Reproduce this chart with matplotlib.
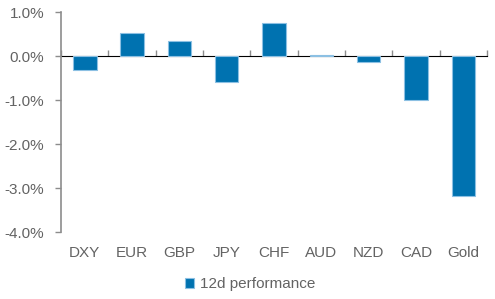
#!/usr/bin/env python3
import numpy as np
import matplotlib
matplotlib.use("Agg")
import matplotlib.pyplot as plt
from matplotlib.ticker import FuncFormatter

# 12 day performance, in percent
categories = ['DXY', 'EUR', 'GBP', 'JPY', 'CHF', 'AUD', 'NZD', 'CAD', 'Gold']
perf_12d = [-0.32, 0.52, 0.34, -0.59, 0.76, 0.02, -0.14, -1.00, -3.18]
y_ticks = [1.0, 0.0, -1.0, -2.0, -3.0, -4.0]
series_name = '12d performance'

bar_color = '#0072B0'
edge_color = '#8CC0E3'
axis_grey = '#8C8C8C'
text_grey = '#636363'

plt.rcParams['font.family'] = ['Liberation Sans', 'DejaVu Sans']
plt.rcParams['font.size'] = 11

fig = plt.figure(figsize=(4.95, 2.99), dpi=100)
ax = fig.add_axes([61 / 495, 1 - 232 / 299, 426 / 495, 220 / 299])

x = np.arange(len(categories))
ax.bar(x, perf_12d, width=0.5, color=bar_color, edgecolor=edge_color,
       linewidth=0.8, label=series_name, zorder=2)

ax.set_xlim(-0.5, len(categories) - 0.5)
ax.set_ylim(min(y_ticks), max(y_ticks))
ax.set_yticks(y_ticks)
ax.yaxis.set_major_formatter(FuncFormatter(lambda v, p: f'{v:.1f}%'))

# category labels under the plot, no ticks
ax.set_xticks(x)
ax.set_xticklabels(categories)
ax.tick_params(axis='x', length=0, pad=10, colors=text_grey, labelsize=11)
ax.tick_params(axis='y', length=4, width=1, color=axis_grey, pad=8,
               labelcolor=text_grey, labelsize=11)

for side in ['top', 'right', 'bottom']:
	ax.spines[side].set_visible(False)
ax.spines['left'].set_color(axis_grey)
ax.spines['left'].set_linewidth(1.2)

# zero line with boundary ticks between categories
zero_pos = (0 - min(y_ticks)) / (max(y_ticks) - min(y_ticks))
sec = ax.secondary_xaxis(zero_pos)
sec.set_xticks(np.arange(len(categories) + 1) - 0.5)
sec.set_xticklabels([])
sec.tick_params(axis='x', length=4, width=1, color=axis_grey, direction='out')
sec.spines['bottom'].set_color(axis_grey)
sec.spines['bottom'].set_linewidth(1.2)
sec.spines['bottom'].set_zorder(3)

leg = fig.legend(loc='center', bbox_to_anchor=(0.505, 0.05), frameon=False,
                 handlelength=0.6, handleheight=0.6, handletextpad=0.4,
                 fontsize=11, borderpad=0, borderaxespad=0)
for t in leg.get_texts():
	t.set_color(text_grey)

fig.savefig('out.png', dpi=100)
